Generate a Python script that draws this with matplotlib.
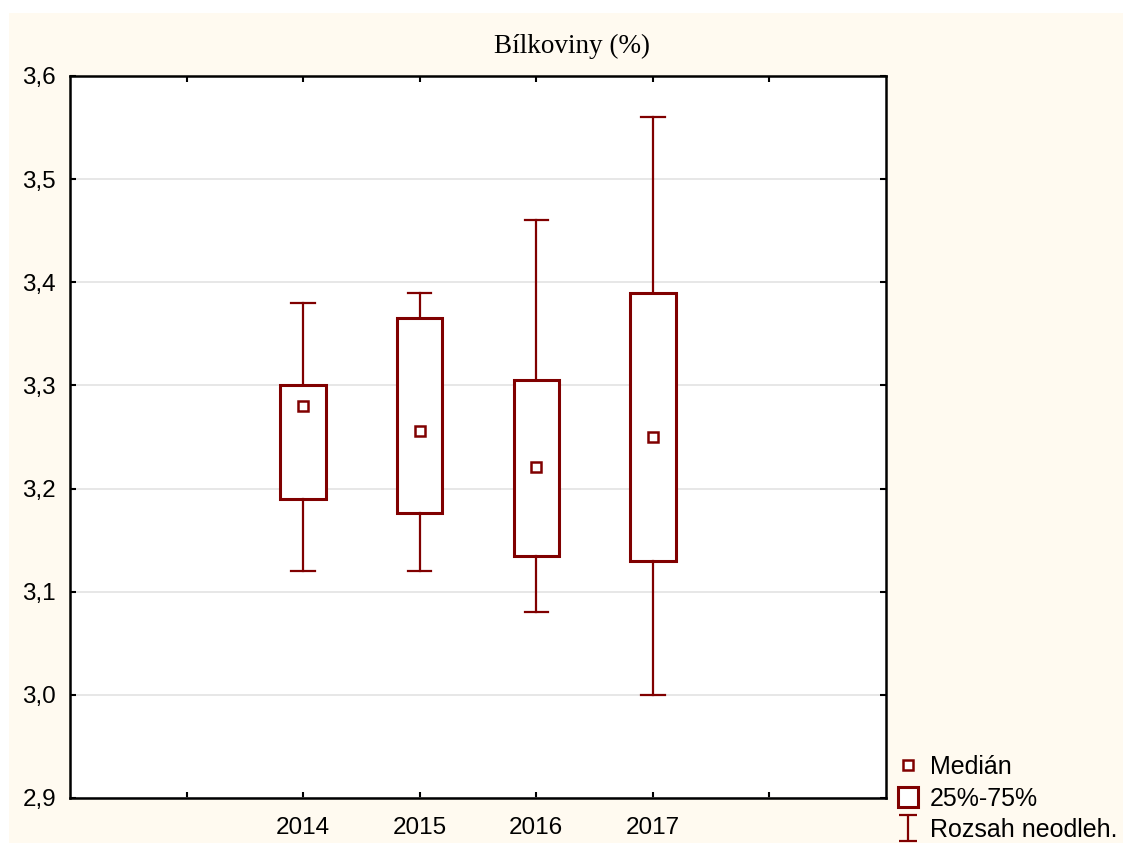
import matplotlib
matplotlib.use("Agg")
import matplotlib.pyplot as plt
from matplotlib.lines import Line2D
from matplotlib.path import Path
from matplotlib.patches import Rectangle

# data
years = ["2014", "2015", "2016", "2017"]
medians = [3.28, 3.256, 3.221, 3.25]
q1 = [3.19, 3.176, 3.135, 3.13]
q3 = [3.30, 3.365, 3.305, 3.39]
lows = [3.12, 3.12, 3.08, 3.00]
highs = [3.38, 3.39, 3.46, 3.56]
yticks = [2.9, 3.0, 3.1, 3.2, 3.3, 3.4, 3.5, 3.6]

red = "#800000"
cream = "#fffaf0"
sans = ["Liberation Sans", "DejaVu Sans"]

fig = plt.figure(figsize=(11.23, 8.43), dpi=100, facecolor="white")
fig.patches.append(Rectangle((9 / 1123, 0), 1, 1 - 13 / 843, transform=fig.transFigure,
                             facecolor=cream, edgecolor="none", zorder=-10))
ax = fig.add_axes([70 / 1123, 1 - 798 / 843, 816 / 1123, 722 / 843])
ax.set_facecolor("white")

pos = [2, 3, 4, 5]
stats = []
for i in range(len(years)):
    stats.append(dict(med=medians[i], q1=q1[i], q3=q3[i],
                      whislo=lows[i], whishi=highs[i], fliers=[]))

ax.bxp(stats, positions=pos, widths=0.39, capwidths=0.2, showfliers=False,
       patch_artist=True,
       boxprops=dict(facecolor="white", edgecolor=red, linewidth=2.2),
       whiskerprops=dict(color=red, linewidth=1.6),
       capprops=dict(color=red, linewidth=1.6),
       medianprops=dict(visible=False), zorder=3)
ax.plot(pos, medians, "s", ms=7, mfc="white", mec=red, mew=1.8, zorder=4, ls="none")

ax.set_xlim(0, 7)
ax.set_ylim(2.9, 3.6)
ax.set_xticks([1, 2, 3, 4, 5, 6])
ax.set_xticklabels([""] + years + [""])
ax.set_yticks(yticks)
ax.set_yticklabels([("%.1f" % t).replace(".", ",") for t in yticks])
ax.grid(axis="y", color="#e3e3e3", linewidth=1.2, zorder=0)
ax.set_axisbelow(True)
ax.tick_params(direction="in", length=4, width=1.5, top=True, right=True,
               labelsize=17.5, colors="black")
ax.tick_params(axis="y", pad=10)
ax.tick_params(axis="x", pad=14)
for lab in ax.get_xticklabels() + ax.get_yticklabels():
    lab.set_family(sans)
for sp in ax.spines.values():
    sp.set_linewidth(1.8)

fig.text(572 / 1123, 1 - 46 / 843, "Bílkoviny (%)", family=["Liberation Serif", "DejaVu Serif"],
         fontsize=19.5, ha="center", va="center")

# legend
ibar = Path([(-0.65, -1), (0.65, -1), (0, -1), (0, 1), (-0.65, 1), (0.65, 1)],
            [Path.MOVETO, Path.LINETO, Path.MOVETO, Path.LINETO, Path.MOVETO, Path.LINETO])
handles = [
    Line2D([], [], ls="none", marker="s", ms=7, mfc="white", mec=red, mew=1.8),
    Line2D([], [], ls="none", marker="s", ms=14, mfc="white", mec=red, mew=2.2),
    Line2D([], [], ls="none", marker=ibar, ms=19, mec=red, mew=1.6),
]
labels = ["Medián", "25%-75%", "Rozsah neodleh."]
fig.legend(handles, labels, loc="upper left", bbox_to_anchor=(897 / 1123, 1 - 755 / 843),
           frameon=False, handlelength=0.9, handletextpad=0.4, borderaxespad=0,
           borderpad=0, labelspacing=0.3, prop=dict(family=sans, size=18))

fig.savefig("out.png", dpi=100, facecolor=fig.get_facecolor())
